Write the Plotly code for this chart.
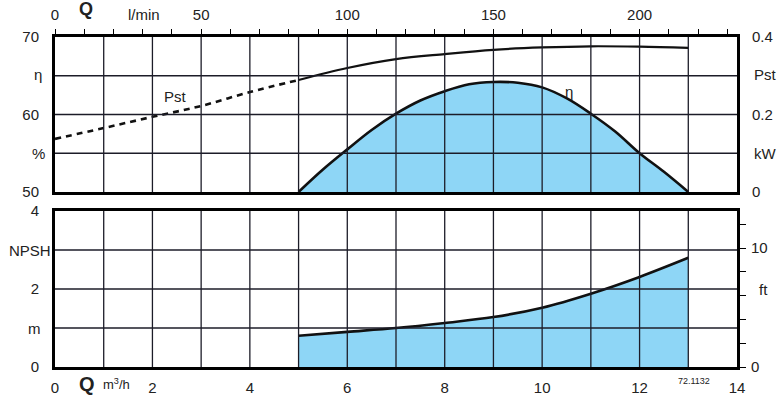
import plotly.graph_objects as go

# ---------------- data ----------------
q_pst = [0, 1, 2, 3, 4, 5, 6, 7, 8, 9, 10, 11, 12, 13]          # m3/h
pst_kw = [0.137, 0.165, 0.194, 0.222, 0.258, 0.289, 0.320, 0.343,
          0.356, 0.367, 0.373, 0.376, 0.375, 0.372]
dash_end_index = 5  # Pst is dashed up to 5 m3/h

q_eta = [5, 5.5, 6, 6.5, 7, 7.5, 8, 8.5, 9, 9.5, 10, 10.5, 11, 11.5, 12, 12.5, 13]
eta_pct = [50.0, 52.9, 55.5, 58.0, 60.1, 61.8, 63.0, 63.9, 64.2, 64.1, 63.5,
           62.1, 60.1, 57.8, 55.0, 52.6, 50.0]

q_npsh = [5, 6, 7, 8, 9, 10, 11, 12, 13]
npsh_m = [0.80, 0.90, 1.00, 1.13, 1.28, 1.52, 1.88, 2.31, 2.80]

x_ticks_m3h = [0, 2, 4, 6, 8, 10, 12, 14]
x_ticks_lmin = [0, 50, 100, 150, 200]
eta_ticks = [50, 60, 70]
pst_ticks = [0, 0.2, 0.4]
npsh_ticks = [0, 2, 4]
ft_ticks = [0, 10]

# ---------------- geometry helpers ----------------
W, H = 781, 399
L, R, T, B = 55, 44, 37, 32
PW, PH = W - L - R, H - T - B


def px(x):
    return (x - L) / PW


def py(y):
    return (H - B - y) / PH


top_dom = [py(192), 1.0]
bot_dom = [0.0, py(211)]

FILL = "#8ED6F6"
GRID = "#1c1c28"
FONT = "Liberation Sans, Arial, sans-serif"
FS = 15

fig = go.Figure()

# efficiency (filled)
fig.add_trace(go.Scatter(x=q_eta, y=eta_pct, xaxis="x", yaxis="y",
                         mode="lines", line_shape="spline", fill="tozeroy", fillcolor=FILL,
                         line=dict(color="#111111", width=2.6), hoverinfo="skip"))
# Pst dashed part
fig.add_trace(go.Scatter(x=q_pst[:dash_end_index + 1], y=pst_kw[:dash_end_index + 1],
                         xaxis="x", yaxis="y2", mode="lines", line_shape="spline",
                         line=dict(color="#111111", width=2.6, dash="6px,5px")))
# Pst solid part
fig.add_trace(go.Scatter(x=q_pst[dash_end_index:], y=pst_kw[dash_end_index:],
                         xaxis="x", yaxis="y2", mode="lines", line_shape="spline",
                         line=dict(color="#111111", width=2.2)))
# NPSH (filled)
fig.add_trace(go.Scatter(x=q_npsh, y=npsh_m, xaxis="x2", yaxis="y3",
                         mode="lines", line_shape="spline", fill="tozeroy", fillcolor=FILL,
                         line=dict(color="#111111", width=2.6)))
# invisible traces to activate secondary axes
fig.add_trace(go.Scatter(x=[0, 233.33], y=[50, 50], xaxis="x3", yaxis="y",
                         mode="markers", marker=dict(opacity=0), hoverinfo="skip"))
fig.add_trace(go.Scatter(x=[0, 14], y=[0, 0], xaxis="x2", yaxis="y4",
                         mode="markers", marker=dict(opacity=0), hoverinfo="skip"))

frame = dict(showline=True, linecolor="black", linewidth=3, mirror=True,
             showgrid=False, zeroline=False, layer="above traces", automargin=False)
plain = dict(showgrid=False, zeroline=False, showline=False, automargin=False)

fig.update_layout(
    template="none",
    width=W, height=H, margin=dict(l=L, r=R, t=T, b=B, pad=0),
    paper_bgcolor="white", plot_bgcolor="white", showlegend=False,
    font=dict(family=FONT, size=FS, color="#222222"),
    xaxis=dict(domain=[0, 1], range=[0, 14], anchor="y", showticklabels=False,
               ticks="", **frame),
    xaxis3=dict(range=[0, 14 * 1000 / 60], overlaying="x", side="top", anchor="y",
                tickvals=x_ticks_lmin,
                ticks="outside", ticklen=7, tickwidth=1.3, tickcolor="black",
                minor=dict(dtick=10, tick0=0, ticks="outside", ticklen=7,
                           tickwidth=1.3, tickcolor="black", showgrid=False),
                ticklabelstandoff=3, **plain),
    yaxis=dict(domain=top_dom, range=[50, 70], anchor="x",
               tickvals=eta_ticks, ticks="", ticklabelstandoff=10, **frame),
    yaxis2=dict(range=[0, 0.4], overlaying="y", side="right", anchor="x",
                tickvals=pst_ticks, ticktext=["0", "0.2", "0.4"], ticks="",
                ticklabelstandoff=14, **plain),
    xaxis2=dict(domain=[0, 1], range=[0, 14], anchor="y3",
                tickvals=x_ticks_m3h, ticks="", ticklabelstandoff=5, **frame),
    yaxis3=dict(domain=bot_dom, range=[0, 4], anchor="x2",
                tickvals=npsh_ticks, ticks="", ticklabelstandoff=10, **frame),
    yaxis4=dict(range=[0, 4 / 0.3048], overlaying="y3", side="right", anchor="x2",
                tickvals=ft_ticks,
                ticks="outside", ticklen=8, tickwidth=1.3, tickcolor="black",
                minor=dict(dtick=2, tick0=0, ticks="outside", ticklen=8,
                           tickwidth=1.3, tickcolor="black", showgrid=False),
                ticklabelstandoff=2, **plain),
)

# grid lines drawn above the fills
shapes = []
for xv in range(1, 14):
    shapes.append(dict(type="line", xref="x", yref="y domain", x0=xv, x1=xv, y0=0, y1=1,
                       line=dict(color=GRID, width=1.3), layer="above"))
    shapes.append(dict(type="line", xref="x2", yref="y3 domain", x0=xv, x1=xv, y0=0, y1=1,
                       line=dict(color=GRID, width=1.3), layer="above"))
for yv in [55, 60, 65]:
    shapes.append(dict(type="line", xref="x domain", yref="y", x0=0, x1=1, y0=yv, y1=yv,
                       line=dict(color=GRID, width=1.3), layer="above"))
for yv in [1, 2, 3]:
    shapes.append(dict(type="line", xref="x2 domain", yref="y3", x0=0, x1=1, y0=yv, y1=yv,
                       line=dict(color=GRID, width=1.3), layer="above"))
fig.update_layout(shapes=shapes)

ann = []


def label(text, x, y, size=FS, xanchor="center", bold=False, yanchor="middle"):
    ann.append(dict(text=f"<b>{text}</b>" if bold else text, xref="paper", yref="paper",
                    x=px(x), y=py(y), showarrow=False, xanchor=xanchor, yanchor=yanchor,
                    font=dict(size=size, family=FONT, color="#222222")))


# left-side text labels
label("η", 38, 75)
label("%", 38, 153)
label("NPSH", 30, 250)
label("m", 34, 328)
# right-side text labels
label("Pst", 752, 75, xanchor="left")
label("kW", 752, 153, xanchor="left")
label("ft", 757, 289, xanchor="left")
# curve labels
label("Pst", 175, 96)
label("η", 569, 91)
# axis titles
label("Q", 86, 9, size=18, bold=True)
label("l/min", 144, 14, size=FS)
label("Q", 87, 384, size=20, bold=True)
label("m<sup>3</sup>/h", 116, 384, size=13)
label("72.1132", 694, 381, size=9)

fig.update_layout(annotations=ann)

fig.write_html("out.html", config={"displayModeBar": False},
               post_script="document.body.style.margin='0';")
